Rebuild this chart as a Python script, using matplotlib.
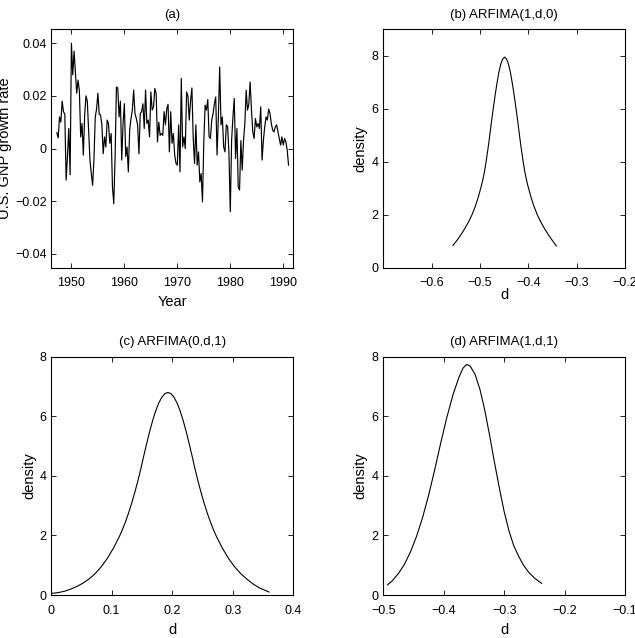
import numpy as np
import matplotlib
matplotlib.use("Agg")
import matplotlib.pyplot as plt

plt.rcParams['font.family'] = ['Liberation Sans', 'DejaVu Sans']
plt.rcParams['font.size'] = 9
plt.rcParams['axes.linewidth'] = 0.8

# ---------------- data ----------------
gnp_start_year = 1947.25
gnp_growth = [
    0.006, 0.004, 0.012, 0.010, 0.018, 0.014, 0.013, -0.012, -0.003, 0.0076,
    -0.010, 0.040, 0.028, 0.037, 0.029, 0.021, 0.026, 0.022, 0.0044, 0.0095,
    -0.0025, 0.0127, 0.020, 0.018, 0.007, -0.0044, -0.0095, -0.014, -0.0044, 0.012,
    0.015, 0.021, 0.013, 0.0127, 0.009, -0.002, 0.0044, 0.0006, 0.0108, 0.0095,
    0.002, 0.0057, -0.0146, -0.021, -0.003, 0.0234, 0.023, 0.012, 0.018, -0.0044,
    0.0095, 0.017, -0.003, 0.0006, -0.0089, 0.007, 0.0114, 0.0146, 0.0222, 0.0133,
    0.0114, 0.009, -0.002, 0.0133, 0.014, 0.017, 0.0076, 0.0222, 0.0095, 0.0108,
    0.0044, 0.0215, 0.0146, 0.0158, 0.0228, 0.021, 0.0025, 0.010, 0.005, 0.0057,
    0.005, 0.014, 0.009, 0.015, 0.0168, -0.0013, 0.014, 0.002, 0.0057, -0.0025,
    -0.0057, -0.0063, 0.009, -0.0089, 0.0266, 0.0006, 0.0044, 0.0, 0.0215, 0.020,
    0.0108, 0.018, 0.023, 0.0038, -0.0057, 0.009, -0.0063, -0.0013, -0.0127, -0.0095,
    -0.0203, 0.0025, 0.0165, 0.0146, 0.0186, 0.0044, 0.0038, 0.0108, 0.0133, 0.017,
    0.0196, -0.0025, 0.012, 0.031, 0.009, 0.012, 0.0006, -0.0013, 0.009, 0.0082,
    -0.002, -0.024, 0.003, 0.012, 0.019, -0.0038, 0.0076, -0.0146, -0.0158, 0.003,
    -0.0082, 0.003, 0.0095, 0.0222, 0.0146, 0.0168, 0.0253, 0.0146, 0.0063, 0.0038,
    0.0114, 0.0082, 0.0095, 0.0076, 0.0158, -0.0044, 0.003, 0.0082, 0.012, 0.0108,
    0.015, 0.0133, 0.0095, 0.007, 0.0063, 0.0082, 0.009, 0.0063, 0.0038, 0.0013,
    0.0044, 0.0013, 0.0038, 0.0025, -0.0006, -0.0063,
]
quarter_step = 0.25

d_b = [-0.556, -0.548, -0.540, -0.532, -0.524, -0.5165, -0.509, -0.503, -0.497, -0.494,
       -0.4905, -0.487, -0.482, -0.477, -0.473, -0.469, -0.465, -0.461, -0.457, -0.453,
       -0.449,
       -0.445, -0.441, -0.437, -0.433, -0.429, -0.425, -0.421, -0.416, -0.411, -0.4075,
       -0.404, -0.401, -0.395, -0.389, -0.3815, -0.374, -0.366, -0.358, -0.350, -0.342]
dens_b = [0.84, 1.02, 1.23, 1.46, 1.72, 2.0, 2.35, 2.7, 3.1, 3.33,
          3.65, 4.04, 4.68, 5.4, 5.95, 6.47, 6.95, 7.37, 7.68, 7.88,
          7.95,
          7.88, 7.68, 7.37, 6.95, 6.47, 5.95, 5.4, 4.68, 4.04, 3.65,
          3.33, 3.1, 2.7, 2.35, 2.0, 1.72, 1.46, 1.23, 1.02, 0.82]

d_c = [0.000, 0.013, 0.023, 0.033, 0.043, 0.053, 0.063, 0.073, 0.083, 0.093,
       0.103, 0.113, 0.118, 0.123, 0.128, 0.133, 0.138, 0.143, 0.148, 0.153,
       0.158, 0.163, 0.168, 0.173, 0.178, 0.183, 0.188, 0.193,
       0.198, 0.203, 0.208, 0.213, 0.218, 0.223, 0.228, 0.233, 0.238, 0.243,
       0.248, 0.253, 0.258, 0.263, 0.268, 0.273, 0.283, 0.293, 0.303, 0.313,
       0.323, 0.333, 0.343, 0.353, 0.360]
dens_c = [0.05, 0.085, 0.13, 0.2, 0.29, 0.4, 0.54, 0.72, 0.95, 1.23,
          1.57, 1.97, 2.2, 2.46, 2.75, 3.07, 3.42, 3.8, 4.21, 4.66,
          5.09, 5.50, 5.87, 6.19, 6.45, 6.64, 6.76, 6.8,
          6.76, 6.64, 6.45, 6.19, 5.87, 5.50, 5.09, 4.66, 4.21, 3.8,
          3.42, 3.07, 2.75, 2.46, 2.2, 1.97, 1.57, 1.23, 0.95, 0.72,
          0.54, 0.38, 0.25, 0.16, 0.10]

d_d = [-0.493, -0.485, -0.475, -0.465, -0.455, -0.445, -0.435, -0.425, -0.415, -0.405,
       -0.395, -0.385, -0.375, -0.368, -0.362, -0.356, -0.348, -0.340, -0.332, -0.324,
       -0.316, -0.308, -0.300, -0.292, -0.284, -0.276, -0.268, -0.260, -0.250, -0.238]
dens_d = [0.34, 0.48, 0.72, 1.03, 1.45, 1.97, 2.6, 3.35, 4.2, 5.1,
          5.95, 6.7, 7.3, 7.62, 7.74, 7.68, 7.4, 6.9, 6.2, 5.35,
          4.45, 3.6, 2.8, 2.15, 1.65, 1.3, 1.0, 0.78, 0.57, 0.39]

yticks_a = [-0.04, -0.02, 0, 0.02, 0.04]
yticklabels_a = ['\u22120.04', '\u22120.02', '0', '0.02', '0.04']
xticks_a = [1950, 1960, 1970, 1980, 1990]

xticks_b = [-0.6, -0.5, -0.4, -0.3, -0.2]
xticklabels_b = ['\u22120.6', '\u22120.5', '\u22120.4', '\u22120.3', '\u22120.2']
xticks_c = [0, 0.1, 0.2, 0.3, 0.4]
xticklabels_c = ['0', '0.1', '0.2', '0.3', '0.4']
xticks_d = [-0.5, -0.4, -0.3, -0.2, -0.1]
xticklabels_d = ['\u22120.5', '\u22120.4', '\u22120.3', '\u22120.2', '\u22120.1']
yticks_dens = [0, 2, 4, 6, 8]

# ---------------- figure ----------------
W, H = 635, 638
fig = plt.figure(figsize=(W / 100, H / 100), dpi=100)

def px_axes(left, right, top, bottom):
    return fig.add_axes([left / W, 1 - bottom / H, (right - left) / W, (bottom - top) / H])

def style(ax):
    ax.tick_params(direction='in', length=3.5, width=0.6, top=True, right=True,
                   labelsize=9)
    ax.tick_params(axis='x', pad=7)
    ax.tick_params(axis='y', pad=3.3)
    for s in ax.spines.values():
        s.set_linewidth(0.8)

ax_a = px_axes(51.3, 293.3, 29.3, 267.7)
ax_b = px_axes(383.3, 625, 29.3, 267.7)
ax_c = px_axes(51.0, 293.3, 356.7, 595)
ax_d = px_axes(383.3, 625, 356.7, 595)

TFS = 9.5
LFS = 10.5

# (a)
years = gnp_start_year + quarter_step * np.arange(len(gnp_growth))
ax_a.plot(years, gnp_growth, color='black', lw=0.85)
ax_a.set_xlim(1946.2, 1991.9)
ax_a.set_ylim(-0.0453, 0.0453)
ax_a.set_xticks(xticks_a)
ax_a.set_yticks(yticks_a)
ax_a.set_yticklabels(yticklabels_a)
style(ax_a)
ax_a.set_title('(a)', fontsize=TFS, pad=8)
ax_a.set_xlabel('Year', fontsize=LFS, va='center')
ax_a.xaxis.set_label_coords(0.5, -0.143)
ax_a.set_ylabel('U.S. GNP growth rate', fontsize=LFS, va='center')
ax_a.yaxis.set_label_coords(-0.19, 0.5)

# (b)
ax_b.plot(d_b, dens_b, color='black', lw=0.8)
ax_b.set_xlim(-0.7, -0.2)
ax_b.set_ylim(0, 9)
ax_b.set_xticks(xticks_b)
ax_b.set_xticklabels(xticklabels_b)
ax_b.set_yticks(yticks_dens)
style(ax_b)
ax_b.set_title('(b) ARFIMA(1,d,0)', fontsize=TFS, pad=8)
ax_b.set_xlabel('d', fontsize=LFS, va='center')
ax_b.xaxis.set_label_coords(0.5, -0.115)
ax_b.set_ylabel('density', fontsize=LFS, va='center')
ax_b.yaxis.set_label_coords(-0.096, 0.5)

# (c)
ax_c.plot(d_c, dens_c, color='black', lw=0.8)
ax_c.set_xlim(0, 0.4)
ax_c.set_ylim(0, 8)
ax_c.set_xticks(xticks_c)
ax_c.set_xticklabels(xticklabels_c)
ax_c.set_yticks(yticks_dens)
style(ax_c)
ax_c.set_title('(c) ARFIMA(0,d,1)', fontsize=TFS, pad=8.5)
ax_c.set_xlabel('d', fontsize=LFS, va='center')
ax_c.xaxis.set_label_coords(0.5, -0.147)
ax_c.set_ylabel('density', fontsize=LFS, va='center')
ax_c.yaxis.set_label_coords(-0.09, 0.5)

# (d)
ax_d.plot(d_d, dens_d, color='black', lw=0.8)
ax_d.set_xlim(-0.5, -0.1)
ax_d.set_ylim(0, 8)
ax_d.set_xticks(xticks_d)
ax_d.set_xticklabels(xticklabels_d)
ax_d.set_yticks(yticks_dens)
style(ax_d)
ax_d.set_title('(d) ARFIMA(1,d,1)', fontsize=TFS, pad=8.5)
ax_d.set_xlabel('d', fontsize=LFS, va='center')
ax_d.xaxis.set_label_coords(0.5, -0.147)
ax_d.set_ylabel('density', fontsize=LFS, va='center')
ax_d.yaxis.set_label_coords(-0.096, 0.5)

fig.savefig('out.png', dpi=100)
